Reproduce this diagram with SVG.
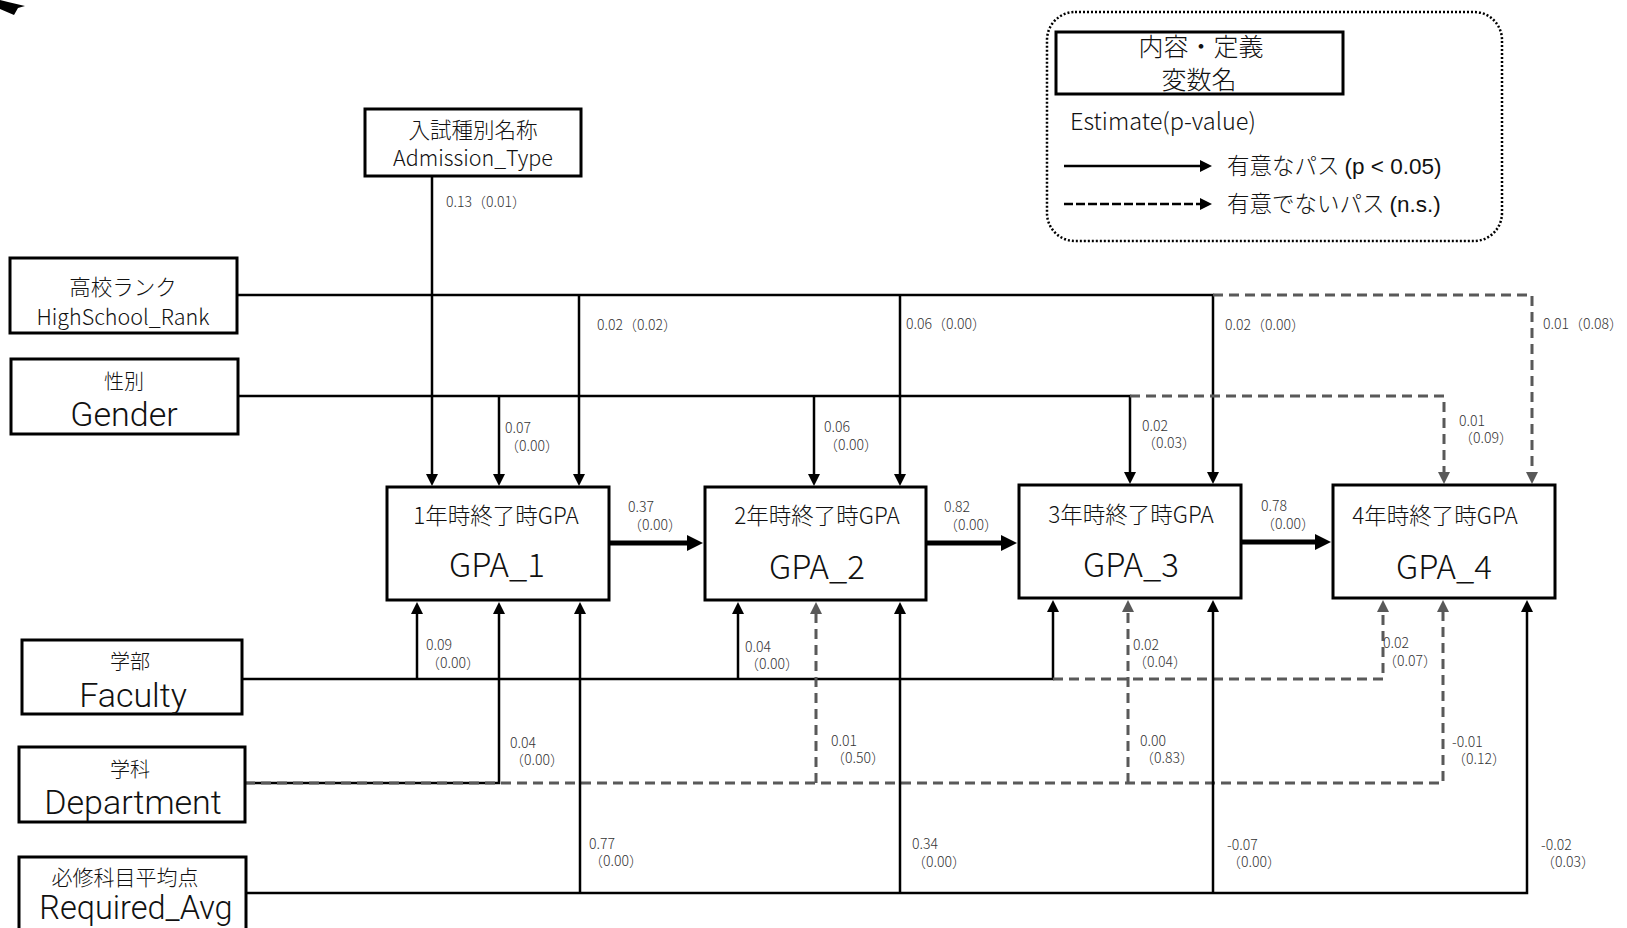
<svg xmlns="http://www.w3.org/2000/svg" width="1627" height="928" viewBox="0 0 1627 928">
<defs>
<style>
.box{fill:#fff;stroke:#000;stroke-width:3}
.t{font-family:"Noto Sans CJK JP","Noto Sans",sans-serif;font-weight:300;fill:#111;text-anchor:middle}
.big{font-family:Roboto,"Noto Sans CJK JP",sans-serif;font-weight:300;fill:#111;text-anchor:middle}
.lbl{font-family:"Noto Sans CJK JP","Noto Sans",sans-serif;font-weight:300;font-size:14px;fill:#333}
.solid{fill:none;stroke:#000;stroke-width:2.5}
.dash{fill:none;stroke:#595959;stroke-width:3;stroke-dasharray:10 6}
.thick{fill:none;stroke:#000;stroke-width:5}
.leg{font-family:"Noto Sans CJK JP","Noto Sans",sans-serif;font-weight:300;fill:#111}
</style>
<marker id="ab" markerUnits="userSpaceOnUse" markerWidth="12" markerHeight="12" refX="4" refY="6" orient="auto"><path d="M0,0 L12,6 L0,12 z" fill="#000"/></marker>
<marker id="ag" markerUnits="userSpaceOnUse" markerWidth="12" markerHeight="12" refX="4" refY="6" orient="auto"><path d="M0,0 L12,6 L0,12 z" fill="#595959"/></marker>
<marker id="at" markerUnits="userSpaceOnUse" markerWidth="16" markerHeight="16" refX="6" refY="8" orient="auto"><path d="M0,0 L16,8 L0,16 z" fill="#000"/></marker>
</defs>
<rect width="1627" height="928" fill="#fff"/>
<polygon points="0,0 8,2 25,6 18,8 14,15 0,9" fill="#000"/>

<g id="connectors">
<path class="solid" d="M432,177 V478" marker-end="url(#ab)"/>
<path class="solid" d="M237,295 H1213 V476" marker-end="url(#ab)"/>
<path class="solid" d="M579,295 V478" marker-end="url(#ab)"/>
<path class="solid" d="M900,295 V478" marker-end="url(#ab)"/>
<path class="dash" d="M1213,295 H1532 V476" marker-end="url(#ag)"/>
<path class="solid" d="M238,396 H1130 V476" marker-end="url(#ab)"/>
<path class="solid" d="M499,396 V478" marker-end="url(#ab)"/>
<path class="solid" d="M814,396 V478" marker-end="url(#ab)"/>
<path class="dash" d="M1130,396 H1444 V476" marker-end="url(#ag)"/>
<path class="solid" d="M242,679 H1053 V608" marker-end="url(#ab)"/>
<path class="solid" d="M417,679 V610" marker-end="url(#ab)"/>
<path class="solid" d="M738,679 V610" marker-end="url(#ab)"/>
<path class="dash" d="M1053,679 H1383 V608" marker-end="url(#ag)"/>
<path class="solid" d="M245,783 H499 V610" marker-end="url(#ab)"/>
<path class="dash" d="M245,783 H1443 V608" marker-end="url(#ag)"/>
<path class="dash" d="M816,783 V610" marker-end="url(#ag)"/>
<path class="dash" d="M1128,783 V608" marker-end="url(#ag)"/>
<path class="solid" d="M246,893 H1527 V608" marker-end="url(#ab)"/>
<path class="solid" d="M580,893 V610" marker-end="url(#ab)"/>
<path class="solid" d="M900,893 V610" marker-end="url(#ab)"/>
<path class="solid" d="M1213,893 V608" marker-end="url(#ab)"/>
<path class="thick" d="M609,543 H693" marker-end="url(#at)"/>
<path class="thick" d="M926,543 H1007" marker-end="url(#at)"/>
<path class="thick" d="M1241,542 H1321" marker-end="url(#at)"/>

<text class="lbl" x="446" y="207">0.13（0.01）</text>
<text class="lbl" x="597" y="330">0.02（0.02）</text>
<text class="lbl" x="906" y="329">0.06（0.00）</text>
<text class="lbl" x="1225" y="330">0.02（0.00）</text>
<text class="lbl" x="1543" y="329">0.01（0.08）</text>

<text class="lbl" x="505" y="433">0.07<tspan x="505" dy="18">（0.00）</tspan></text>
<text class="lbl" x="824" y="432">0.06<tspan x="824" dy="18">（0.00）</tspan></text>
<text class="lbl" x="1142" y="431">0.02<tspan x="1142" dy="17">（0.03）</tspan></text>
<text class="lbl" x="1459" y="426">0.01<tspan x="1459" dy="17">（0.09）</tspan></text>

<text class="lbl" x="628" y="512">0.37<tspan x="628" dy="18">（0.00）</tspan></text>
<text class="lbl" x="944" y="512">0.82<tspan x="944" dy="18">（0.00）</tspan></text>
<text class="lbl" x="1261" y="511">0.78<tspan x="1261" dy="18">（0.00）</tspan></text>

<text class="lbl" x="426" y="650">0.09<tspan x="426" dy="18">（0.00）</tspan></text>
<text class="lbl" x="745" y="652">0.04<tspan x="745" dy="17">（0.00）</tspan></text>
<text class="lbl" x="1133" y="650">0.02<tspan x="1133" dy="17">（0.04）</tspan></text>
<text class="lbl" x="1383" y="648">0.02<tspan x="1383" dy="18">（0.07）</tspan></text>

<text class="lbl" x="510" y="748">0.04<tspan x="510" dy="17">（0.00）</tspan></text>
<text class="lbl" x="831" y="746">0.01<tspan x="831" dy="17">（0.50）</tspan></text>
<text class="lbl" x="1140" y="746">0.00<tspan x="1140" dy="17">（0.83）</tspan></text>
<text class="lbl" x="1452" y="747">-0.01<tspan x="1452" dy="17">（0.12）</tspan></text>

<text class="lbl" x="589" y="849">0.77<tspan x="589" dy="17">（0.00）</tspan></text>
<text class="lbl" x="912" y="849">0.34<tspan x="912" dy="18">（0.00）</tspan></text>
<text class="lbl" x="1227" y="850">-0.07<tspan x="1227" dy="17">（0.00）</tspan></text>
<text class="lbl" x="1541" y="850">-0.02<tspan x="1541" dy="17">（0.03）</tspan></text>
</g>

<g id="node-admission">
<rect class="box" x="365" y="109" width="216" height="67"/>
<text class="t" x="473" y="138" font-size="21.5">入試種別名称</text>
<text class="t" x="473" y="166" font-size="21.5">Admission_Type</text>
</g>
<g id="node-highschool">
<rect class="box" x="10" y="258" width="227" height="75"/>
<text class="t" x="123" y="295" font-size="21.5">高校ランク</text>
<text class="t" x="123" y="325" font-size="21.5">HighSchool_Rank</text>
</g>
<g id="node-gender">
<rect class="box" x="11" y="359" width="227" height="75"/>
<text class="t" x="124" y="389" font-size="20">性別</text>
<text class="big" x="124" y="426" font-size="34">Gender</text>
</g>
<g id="node-faculty">
<rect class="box" x="22" y="640" width="220" height="74"/>
<text class="t" x="130" y="669" font-size="20">学部</text>
<text class="big" x="133" y="707" font-size="34">Faculty</text>
</g>
<g id="node-department">
<rect class="box" x="19" y="747" width="226" height="75"/>
<text class="t" x="130" y="777" font-size="20">学科</text>
<text class="big" x="133" y="814" font-size="34">Department</text>
</g>
<g id="node-required">
<rect class="box" x="19" y="857" width="227" height="82"/>
<text class="t" x="125" y="885" font-size="21">必修科目平均点</text>
<text class="big" x="136" y="919" font-size="32.5">Required_Avg</text>
</g>

<g id="node-gpa1">
<rect class="box" x="387" y="487" width="222" height="113"/>
<text class="t" x="496" y="524" font-size="22.5">1年時終了時GPA</text>
<text class="t" x="497" y="577" font-size="33">GPA_1</text>
</g>
<g id="node-gpa2">
<rect class="box" x="705" y="487" width="221" height="113"/>
<text class="t" x="817" y="524" font-size="22.5">2年時終了時GPA</text>
<text class="t" x="817" y="579" font-size="33">GPA_2</text>
</g>
<g id="node-gpa3">
<rect class="box" x="1019" y="485" width="222" height="113"/>
<text class="t" x="1131" y="523" font-size="22.5">3年時終了時GPA</text>
<text class="t" x="1131" y="577" font-size="33">GPA_3</text>
</g>
<g id="node-gpa4">
<rect class="box" x="1333" y="485" width="222" height="113"/>
<text class="t" x="1435" y="524" font-size="22.5">4年時終了時GPA</text>
<text class="t" x="1444" y="579" font-size="33">GPA_4</text>
</g>

<g id="legend">
<rect x="1047" y="12" width="455" height="229" rx="28" ry="28" fill="none" stroke="#000" stroke-width="2.5" stroke-dasharray="2 2"/>
<rect class="box" x="1056" y="32" width="287" height="62"/>
<text class="t" x="1201" y="56" font-size="25">内容・定義</text>
<text class="t" x="1199" y="89" font-size="25">変数名</text>
<text class="leg" x="1070" y="130" font-size="23.5">Estimate(p-value)</text>
<path class="solid" d="M1064,166 H1204" marker-end="url(#ab)"/>
<path d="M1064,204 H1204" fill="none" stroke="#000" stroke-width="2.5" stroke-dasharray="9 3" marker-end="url(#ab)"/>
<text class="leg" x="1227" y="174" font-size="22.5">有意なパス <tspan font-family="Liberation Sans, Arial, sans-serif">(p &lt; 0.05)</tspan></text>
<text class="leg" x="1227" y="212" font-size="22.5">有意でないパス <tspan font-family="Liberation Sans, Arial, sans-serif">(n.s.)</tspan></text>
</g>
</svg>
